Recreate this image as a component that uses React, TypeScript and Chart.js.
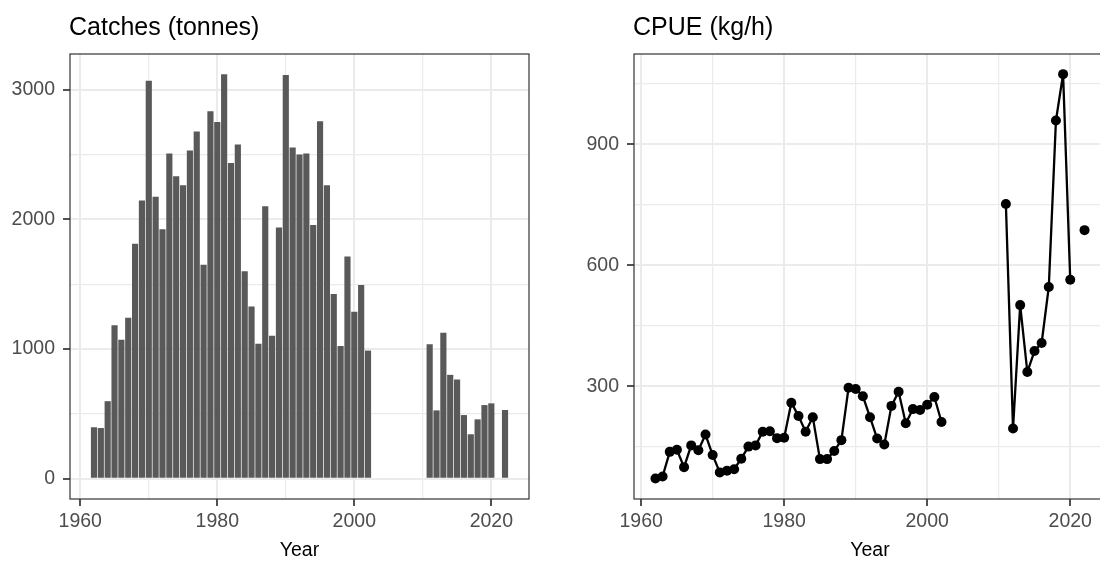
import React, { useEffect, useRef } from "react";
import { Chart, registerables } from "chart.js";

Chart.register(...registerables);

// ---------- data ----------
const years = [
  1962, 1963, 1964, 1965, 1966, 1967, 1968, 1969, 1970, 1971,
  1972, 1973, 1974, 1975, 1976, 1977, 1978, 1979, 1980, 1981,
  1982, 1983, 1984, 1985, 1986, 1987, 1988, 1989, 1990, 1991,
  1992, 1993, 1994, 1995, 1996, 1997, 1998, 1999, 2000, 2001,
  2002, 2003, 2004, 2005, 2006, 2007, 2008, 2009, 2010, 2011,
  2012, 2013, 2014, 2015, 2016, 2017, 2018, 2019, 2020, 2021,
  2022,
];

const catches: (number | null)[] = [
  397, 391, 598, 1184, 1072, 1241, 1811, 2144, 3067, 2174,
  1924, 2507, 2331, 2262, 2530, 2676, 1650, 2832, 2750, 3118,
  2433, 2576, 1599, 1328, 1041, 2100, 1103, 1937, 3113, 2553,
  2500, 2507, 1955, 2755, 2262, 1425, 1023, 1714, 1287, 1494,
  988, null, null, null, null, null, null, null, null, 1036,
  527, 1126, 801, 765, 491, 343, 458, 568, 581, 8,
  530,
];

const cpue: (number | null)[] = [
  71, 76, 137, 142, 99, 153, 141, 180, 129, 86,
  90, 94, 120, 150, 153, 187, 188, 171, 172, 259,
  226, 187, 223, 119, 119, 139, 166, 296, 293, 275,
  223, 170, 155, 251, 286, 208, 243, 241, 254, 273,
  211, null, null, null, null, null, null, null, null, 752,
  195, 501, 335, 387, 407, 546, 959, 1074, 564, null,
  687,
];

const catchesTitle = "Catches (tonnes)";
const cpueTitle = "CPUE (kg/h)";
const xAxisTitle = "Year";

const xMajor = [1960, 1980, 2000, 2020];
const xMinor = [1970, 1990, 2010];
const catchesMajor = [0, 1000, 2000, 3000];
const catchesMinor = [500, 1500, 2500];
const cpueMajor = [300, 600, 900];
const cpueMinor = [150, 450, 750, 1050];

// ---------- styling ----------
const FONT = "Arial, 'Liberation Sans', sans-serif";
const GRID = "#EBEBEB";
const DARK = "#333333";
const TICK_TEXT = "#4D4D4D";
const H = 563;

const panelPlugin = {
  id: "panel",
  afterDraw(chart: any, _args: any, opts: any) {
    const { ctx, chartArea: a } = chart;
    ctx.save();
    ctx.strokeStyle = DARK;
    ctx.lineWidth = 1.2;
    ctx.strokeRect(a.left, a.top, a.right - a.left, a.bottom - a.top);
    ctx.fillStyle = "#000000";
    ctx.font = `25px ${FONT}`;
    ctx.textAlign = "left";
    ctx.textBaseline = "alphabetic";
    ctx.fillText(opts.text, a.left - 1, opts.y);
    ctx.restore();
  },
};

function axis(
  min: number,
  max: number,
  major: number[],
  minor: number[],
  isX: boolean,
  size: number
) {
  const all = [...major, ...minor].sort((p, q) => p - q);
  return {
    type: "linear",
    min,
    max,
    bounds: "data",
    offset: false,
    afterBuildTicks: (s: any) => {
      s.ticks = all.map((v) => ({ value: v }));
    },
    afterFit: (s: any) => {
      if (isX) s.height = size;
      else s.width = size;
    },
    border: { display: false },
    grid: {
      offset: false,
      color: GRID,
      lineWidth: (c: any) => (c.tick && major.includes(c.tick.value) ? 2 : 1.2),
      tickColor: (c: any) =>
        c.tick && major.includes(c.tick.value) ? DARK : "rgba(0,0,0,0)",
      tickWidth: 1.7,
      tickLength: 7,
      drawTicks: true,
    },
    ticks: {
      autoSkip: false,
      maxRotation: 0,
      minRotation: 0,
      color: TICK_TEXT,
      font: { size: 19.5, family: FONT },
      padding: isX ? 4 : 8,
      callback: (v: any) => (major.includes(Number(v)) ? String(v) : ""),
    },
    title: isX
      ? {
          display: true,
          text: xAxisTitle,
          color: "#000000",
          font: { size: 19.5, family: FONT },
          padding: { top: 0, bottom: 1 },
        }
      : { display: false },
  };
}

function catchesConfig(): any {
  const data = years
    .map((x, i) => ({ x, y: catches[i] }))
    .filter((d) => d.y !== null);
  return {
    type: "bar",
    data: {
      datasets: [
        {
          data,
          backgroundColor: "#595959",
          borderWidth: 0,
          barPercentage: 0.9,
          categoryPercentage: 1.0,
        },
      ],
    },
    options: {
      animation: false,
      responsive: false,
      devicePixelRatio: 1,
      layout: { autoPadding: false, padding: { top: 54, right: 21, left: 0, bottom: 0 } },
      plugins: {
        legend: { display: false },
        tooltip: { enabled: false },
        panel: { text: catchesTitle, y: 35 },
      },
      scales: {
        x: axis(1958.5, 2025.5, xMajor, xMinor, true, 64),
        y: axis(-156, 3274, catchesMajor, catchesMinor, false, 70),
      },
    },
    plugins: [panelPlugin],
  };
}

function cpueConfig(): any {
  const data = years.map((x, i) => ({ x, y: cpue[i] }));
  return {
    type: "line",
    data: {
      datasets: [
        {
          data,
          borderColor: "#000000",
          borderWidth: 2.3,
          pointRadius: 5,
          pointBackgroundColor: "#000000",
          pointBorderWidth: 0,
          spanGaps: false,
          tension: 0,
        },
      ],
    },
    options: {
      animation: false,
      responsive: false,
      devicePixelRatio: 1,
      layout: { autoPadding: false, padding: { top: 54, right: 0, left: 0, bottom: 0 } },
      plugins: {
        legend: { display: false },
        tooltip: { enabled: false },
        panel: { text: cpueTitle, y: 35 },
      },
      scales: {
        x: axis(1959, 2025, xMajor, xMinor, true, 64),
        y: axis(20, 1124, cpueMajor, cpueMinor, false, 84),
      },
    },
    plugins: [panelPlugin],
  };
}

function ChartCanvas({
  makeConfig,
  left,
  width,
}: {
  makeConfig: () => any;
  left: number;
  width: number;
}) {
  const ref = useRef<HTMLCanvasElement | null>(null);
  useEffect(() => {
    if (!ref.current) return;
    const chart = new Chart(ref.current, makeConfig());
    return () => chart.destroy();
  }, [makeConfig]);
  return (
    <canvas
      ref={ref}
      width={width}
      height={H}
      style={{
        position: "absolute",
        left,
        top: 0,
        width,
        height: H,
        display: "block",
      }}
    />
  );
}

export default function App() {
  return (
    <div
      style={{
        position: "absolute",
        left: 0,
        top: 0,
        width: 1100,
        height: H,
        overflow: "hidden",
        background: "#ffffff",
      }}
    >
      <ChartCanvas makeConfig={catchesConfig} left={0} width={550} />
      <ChartCanvas makeConfig={cpueConfig} left={550} width={556} />
    </div>
  );
}
